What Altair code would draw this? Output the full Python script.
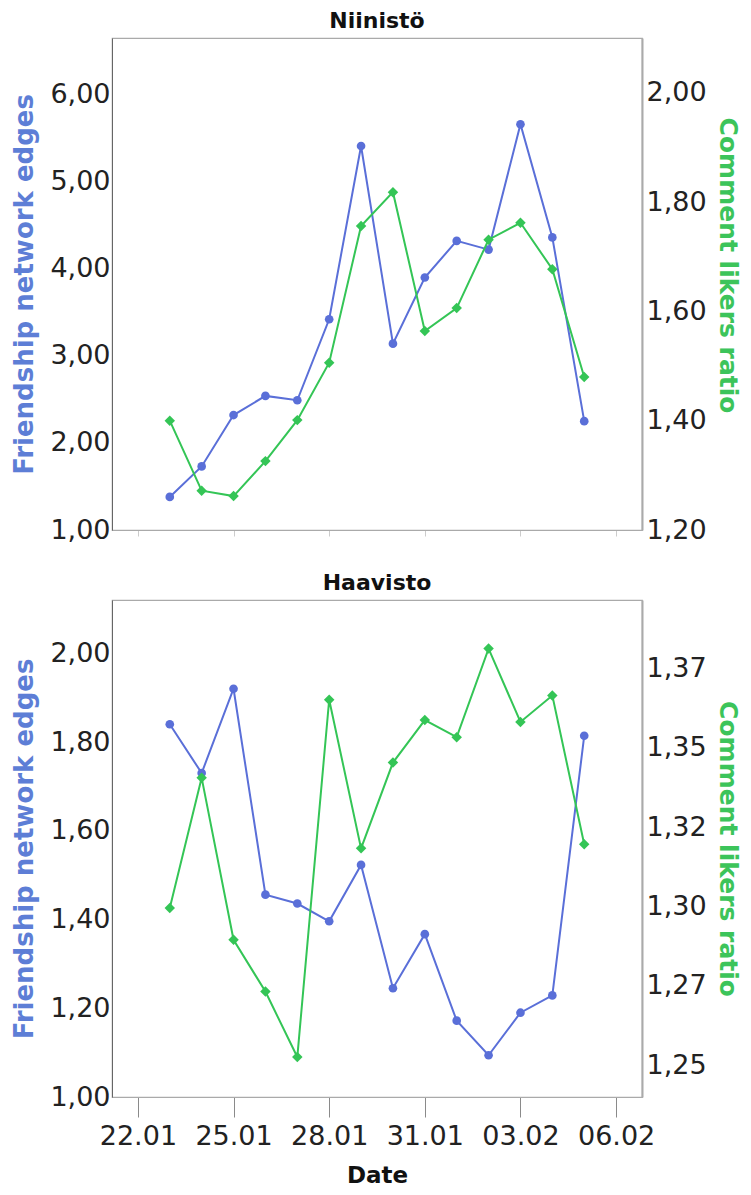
import altair as alt
import pandas as pd

dates = ["2012-01-23", "2012-01-24", "2012-01-25", "2012-01-26", "2012-01-27",
         "2012-01-28", "2012-01-29", "2012-01-30", "2012-01-31", "2012-02-01",
         "2012-02-02", "2012-02-03", "2012-02-04", "2012-02-05"]

niinisto_edges = [1.38, 1.73, 2.32, 2.54, 2.49, 3.42, 5.41, 3.14, 3.90, 4.32, 4.22, 5.66, 4.36, 2.25]
niinisto_ratio = [1.400, 1.272, 1.262, 1.326, 1.401, 1.506, 1.756, 1.818, 1.564, 1.606, 1.731, 1.762, 1.677, 1.480]

haavisto_edges = [1.84, 1.73, 1.92, 1.456, 1.436, 1.396, 1.523, 1.245, 1.367, 1.172, 1.094, 1.190, 1.229, 1.814]
haavisto_ratio = [1.2995, 1.3405, 1.2895, 1.2732, 1.2526, 1.3651, 1.3183, 1.3453, 1.3587, 1.3533, 1.3812, 1.3581, 1.3664, 1.3196]

x_ticks = [(2012, 1, 22), (2012, 1, 25), (2012, 1, 28), (2012, 1, 31), (2012, 2, 3), (2012, 2, 6)]

niinisto_left_ticks = [1, 2, 3, 4, 5, 6]
niinisto_right_ticks = [1.2, 1.4, 1.6, 1.8, 2.0]
haavisto_left_ticks = [1.0, 1.2, 1.4, 1.6, 1.8, 2.0]
haavisto_right_ticks = [1.25, 1.275, 1.3, 1.325, 1.35, 1.375]

BLUE = "#5a6fd8"
GREEN = "#34c556"
BLUE_T = "#5d7ed6"
GREEN_T = "#3cc45a"
FONT = "DejaVu Sans"

tick_vals = [alt.DateTime(year=y, month=m, date=d, utc=True) for (y, m, d) in x_ticks]
x_domain = [alt.DateTime(year=2012, month=1, date=21, hours=4, minutes=30, utc=True),
            alt.DateTime(year=2012, month=2, date=6, hours=19, minutes=30, utc=True)]

label_expr = "replace(format(floor(datum.value*100+1e-6)/100, '.2f'), '.', ',')"


def panel(title, edges, ratio, ldom, lticks, rdom, rticks, bottom, height, right_title_y=None):
    df = pd.DataFrame({"date": dates, "edges": edges, "ratio": ratio})
    base = alt.Chart(df)
    if bottom:
        xaxis = alt.Axis(values=tick_vals, format="%d.%m", title="Date", tickSize=20,
                         tickColor="#8a8a8a", labelPadding=6, labelFontSize=27,
                         labelFont=FONT, labelColor="#222222", titleFont=FONT,
                         titleFontSize=23, titleFontWeight="bold", titleColor="#111111",
                         domainColor="#aaaaaa", grid=False, titlePadding=15)
    else:
        xaxis = alt.Axis(values=tick_vals, labels=False, title=None, tickSize=6,
                         tickColor="#cccccc", domainColor="#aaaaaa", grid=False)
    x = alt.X("date:T", scale=alt.Scale(type="utc", domain=x_domain), axis=xaxis)
    left = base.mark_line(color=BLUE, strokeWidth=2,
                          point=alt.OverlayMarkDef(filled=True, shape="circle", size=75, color=BLUE, opacity=1)).encode(
        x=x,
        y=alt.Y("edges:Q", scale=alt.Scale(domain=ldom, nice=False, zero=False),
                axis=alt.Axis(orient="left", values=lticks, labelExpr=label_expr, ticks=False,
                              grid=False, title="Friendship network edges", titleColor=BLUE_T,
                              titleFont=FONT, titleFontSize=26, titleFontWeight="bold",
                              titlePadding=12, labelFont=FONT, labelFontSize=27,
                              labelColor="#222222", labelPadding=2, domainColor="#666666"))
    )
    raxis = dict(orient="right", values=rticks, labelExpr=label_expr, ticks=False,
                 grid=False, title="Comment likers ratio", titleColor=GREEN_T,
                 titleFont=FONT, titleFontSize=25, titleFontWeight="bold",
                 titlePadding=8, labelFont=FONT, labelFontSize=27,
                 labelColor="#222222", labelPadding=4, domainColor="#aaaaaa",
                 domainWidth=2)
    if right_title_y is not None:
        raxis["titleY"] = right_title_y
    right = base.mark_line(color=GREEN, strokeWidth=2,
                           point=alt.OverlayMarkDef(filled=True, shape="diamond", size=110, color=GREEN, opacity=1)).encode(
        x=x,
        y=alt.Y("ratio:Q", scale=alt.Scale(domain=rdom, nice=False, zero=False),
                axis=alt.Axis(**raxis))
    )
    return alt.layer(left, right).resolve_scale(y="independent").properties(
        width=530, height=height,
        title=alt.TitleParams(title, font=FONT, fontSize=22, fontWeight="bold", color="#111111", offset=5)
    )


top = panel("Niinistö", niinisto_edges, niinisto_ratio, [1.0, 6.65], niinisto_left_ticks,
            [1.2, 2.1], niinisto_right_ticks, False, 492, right_title_y=227)
bot = panel("Haavisto", haavisto_edges, haavisto_ratio, [1.0, 2.12], haavisto_left_ticks,
            [1.24, 1.3965], haavisto_right_ticks, True, 497)

chart = alt.vconcat(top, bot, spacing=27,
                    padding={"left": 3, "right": 3, "top": 1, "bottom": 3}).configure_view(
    stroke="#aaaaaa", strokeWidth=1.2)

chart.save("out.html", embed_options={"renderer": "svg", "actions": False})
